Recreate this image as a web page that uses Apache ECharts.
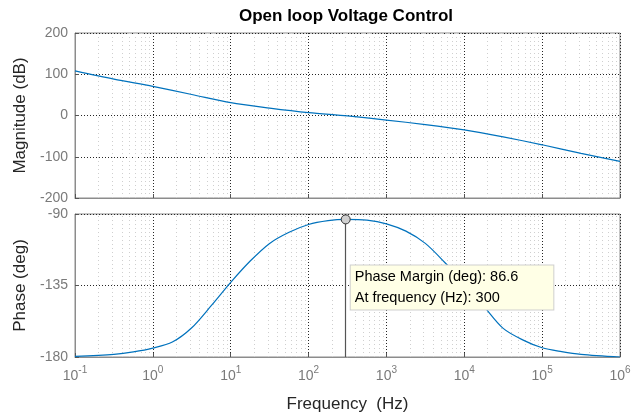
<!DOCTYPE html>
<html>
<head>
<meta charset="utf-8">
<script src="https://cdn.jsdelivr.net/npm/echarts@6/dist/echarts.min.js"></script>
<style>
html,body{margin:0;padding:0;background:#fff;}
#c{width:641px;height:416px;}
</style>
</head>
<body>
<div id="c"></div>
<script>
// ---- data ----
var magFreq = [0.1, 0.316, 1, 3.16, 10, 31.6, 100, 316, 1000, 3160, 1e4, 3.16e4, 1e5, 3.16e5, 1e6];
var magDb   = [108, 88, 70.5, 51, 31, 18, 7, -1, -11, -22, -35, -52, -71, -92, -111];

var phaseFreq = [0.1, 0.316, 0.562, 1, 1.78, 3.16, 5.62, 10, 17.8, 31.6, 56.2, 100, 178, 300, 562, 1000, 1780, 3160, 5620, 1e4, 1.78e4, 3.16e4, 5.62e4, 1e5, 1.78e5, 3.16e5, 1e6];
var phaseDeg  = [-179.6, -178.3, -176.8, -174.4, -170.6, -161.6, -147.7, -133, -119.6, -108.5, -101.5, -96.6, -94.2, -93.4, -93.9, -96.2, -100.8, -108.5, -120.5, -133.5, -148, -162, -169.2, -174.2, -176.6, -178.3, -180];

var magTicks = [-200, -100, 0, 100, 200];
var phaseTicks = [-180, -135, -90];
var pmFreq = 300;
var pmPhase = -93.4;
var pmLabel = ['Phase Margin (deg): 86.6', 'At frequency (Hz): 300'];

var titleText = 'Open loop Voltage Control';
var xName = 'Frequency  (Hz)';
var magName = 'Magnitude (dB)';
var phaseName = 'Phase (deg)';

// minor (2..9 per decade) grid positions
var minorX = [];
for (var d = -1; d <= 5; d++) {
  for (var k = 2; k <= 9; k++) minorX.push(k * Math.pow(10, d));
}

var FONT = 'Liberation Sans, Arial, sans-serif';
var minorStyle = {color: '#cfcfcf', type: [1, 3], width: 1};
var majorStyle = {color: '#262626', type: [1, 2], width: 1};

function minorLines() {
  return minorX.map(function (v) { return {xAxis: v, lineStyle: minorStyle}; });
}

var chart = echarts.init(document.getElementById('c'), null, {renderer: 'canvas'});

var xCommon = {
  type: 'log',
  logBase: 10,
  min: 0.1,
  max: 1e6,
  splitNumber: 7,
  axisLine: {show: true, onZero: false, lineStyle: {color: '#8c8c8c'}},
  axisTick: {show: true, inside: true, length: 4, lineStyle: {color: '#555'}},
  splitLine: {show: true, lineStyle: majorStyle},
  minorTick: {show: false},
  minorSplitLine: {show: false}
};

var option = {
  animation: false,
  backgroundColor: '#fff',
  title: {
    text: titleText,
    left: 341,
    textAlign: 'center',
    top: 3,
    textStyle: {fontFamily: FONT, fontSize: 17, fontWeight: 'bold', color: '#000'}
  },
  grid: [
    {left: 75, right: 21, top: 33, height: 165, show: true, borderColor: '#8c8c8c', borderWidth: 1, backgroundColor: '#fff'},
    {left: 75, right: 21, top: 214, height: 143, show: true, borderColor: '#8c8c8c', borderWidth: 1, backgroundColor: '#fff'}
  ],
  xAxis: [
    Object.assign({}, xCommon, {gridIndex: 0, axisLabel: {show: false}}),
    Object.assign({}, xCommon, {
      gridIndex: 1,
      name: xName,
      nameLocation: 'middle',
      nameGap: 39,
      nameTextStyle: {fontFamily: FONT, fontSize: 17, color: '#262626'},
      axisLabel: {
        show: true,
        margin: 8,
        color: '#7a7a7a',
        formatter: function (v) {
          var e = Math.round(Math.log(v) / Math.LN10);
          return '{b|10}{s|' + e + '}';
        },
        rich: {
          b: {fontFamily: FONT, fontSize: 14, color: '#7a7a7a', verticalAlign: 'bottom', lineHeight: 18},
          s: {fontFamily: FONT, fontSize: 10, color: '#7a7a7a', verticalAlign: 'top', lineHeight: 10}
        }
      }
    })
  ],
  yAxis: [
    {
      gridIndex: 0, type: 'value', min: magTicks[0], max: magTicks[magTicks.length - 1], interval: 100,
      name: magName, nameLocation: 'middle', nameGap: 39,
      nameTextStyle: {fontFamily: FONT, fontSize: 17, color: '#262626'},
      axisLine: {show: true, onZero: false, lineStyle: {color: '#8c8c8c'}},
      axisTick: {show: true, inside: true, length: 4, lineStyle: {color: '#555'}},
      axisLabel: {fontFamily: FONT, fontSize: 14, color: '#7a7a7a', margin: 7},
      splitLine: {show: true, lineStyle: majorStyle}
    },
    {
      gridIndex: 1, type: 'value', min: phaseTicks[0], max: phaseTicks[phaseTicks.length - 1], interval: 45,
      name: phaseName, nameLocation: 'middle', nameGap: 39,
      nameTextStyle: {fontFamily: FONT, fontSize: 17, color: '#262626'},
      axisLine: {show: true, onZero: false, lineStyle: {color: '#8c8c8c'}},
      axisTick: {show: true, inside: true, length: 4, lineStyle: {color: '#555'}},
      axisLabel: {fontFamily: FONT, fontSize: 14, color: '#7a7a7a', margin: 7},
      splitLine: {show: true, lineStyle: majorStyle}
    }
  ],
  series: [
    {
      type: 'line',
      xAxisIndex: 0, yAxisIndex: 0,
      data: magFreq.map(function (f, i) { return [f, magDb[i]]; }),
      showSymbol: false,
      smooth: 0.3,
      lineStyle: {color: '#0072BD', width: 1.2},
      z: 5,
      markLine: {silent: true, symbol: 'none', label: {show: false}, animation: false, z: 1,
        data: minorLines()}
    },
    {
      type: 'line',
      xAxisIndex: 1, yAxisIndex: 1,
      data: phaseFreq.map(function (f, i) { return [f, phaseDeg[i]]; }),
      showSymbol: false,
      smooth: 0.3,
      lineStyle: {color: '#0072BD', width: 1.2},
      z: 5,
      markLine: {silent: true, symbol: 'none', label: {show: false}, animation: false, z: 1,
        data: minorLines().concat([[
          {coord: [pmFreq, pmPhase], lineStyle: {color: '#555', type: 'solid', width: 1.2}},
          {coord: [pmFreq, phaseTicks[0]]}
        ]])},
      markPoint: {
        silent: true,
        symbol: 'circle',
        symbolSize: 9,
        itemStyle: {
          color: '#d0d0d0', borderColor: '#333', borderWidth: 1,
          decal: {symbol: 'rect', symbolSize: 1, dashArrayX: [1, 1], dashArrayY: [1, 1], color: 'rgba(0,0,0,0.6)', rotation: 0}
        },
        z: 10,
        data: [{coord: [pmFreq, pmPhase],
          label: {
            show: true,
            position: [10, 51],
            formatter: pmLabel.join('\n'),
            fontFamily: FONT, fontSize: 14.5, color: '#000',
            lineHeight: 21,
            align: 'left', verticalAlign: 'top',
            backgroundColor: '#ffffe6',
            borderColor: '#cfcfcf', borderWidth: 1,
            padding: [1, 35, 1, 4]
          }}]
      }
    }
  ]
};
chart.setOption(option);
</script>
</body>
</html>
